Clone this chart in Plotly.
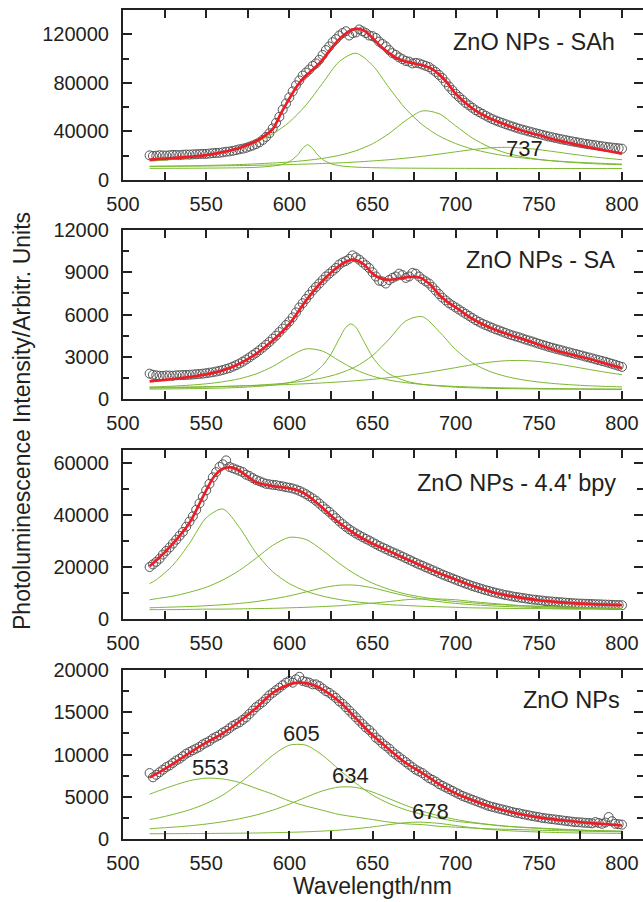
import plotly.graph_objects as go

# ---------------- data ----------------
DATA_X_A = list(range(516, 801, 4))        # measured wavelengths (nm), set A
DATA_X_B = list(range(518, 799, 4))        # measured wavelengths (nm), set B
GRID_X = [516, 520, 530, 540, 550, 560, 570, 580, 590, 600,
          610, 620, 630, 640, 650, 660, 670, 680, 690, 700,
          710, 720, 730, 740, 750, 760, 770, 780, 790, 800]

PANEL_TITLES = ["ZnO NPs - SAh", "ZnO NPs - SA", "ZnO NPs - 4.4' bpy", "ZnO NPs"]
X_TICKS = [500, 550, 600, 650, 700, 750, 800]

# ---- panel 1 : ZnO NPs - SAh ----
P1_DATA_A = [20300, 20000, 20200, 20400, 20600, 20800, 20900, 21200,
             21500, 21800, 22300, 22800, 23500, 24600, 25800, 27500,
             29600, 33000, 38500, 47000, 58000, 68000, 78000, 86000,
             91000, 96000, 103000, 110000, 116000, 121000, 119000, 121500,
             122500, 119000, 117000, 112000, 107000, 103000, 99500, 97500,
             96500, 95000, 93000, 89000, 84000, 77000, 71000, 66000,
             61500, 57500, 54500, 51500, 49000, 47000, 45000, 43200,
             41500, 40000, 38600, 37200, 35800, 34600, 33400, 32300,
             31300, 30300, 29400, 28600, 27800, 27000, 26400, 25800]
P1_DATA_B = [19800, 20400, 20100, 20700, 20500, 21000, 21100, 21400,
             21500, 22100, 22400, 23300, 24000, 25300, 26500, 28400,
             31000, 35500, 42500, 52000, 63000, 73000, 82000, 88500,
             94000, 99000, 107000, 113500, 119000, 122500, 121000, 124000,
             121000, 118500, 114000, 110000, 104500, 101000, 98000, 96000,
             96000, 94000, 91000, 86500, 80500, 74000, 68500, 63500,
             59500, 56000, 53000, 50200, 48000, 46000, 44100, 42300,
             40800, 39300, 37900, 36500, 35200, 34000, 32900, 31800,
             30800, 29800, 29000, 28200, 27400, 26700, 26100]
P1_FIT_X = [516, 520, 530, 540, 550, 560, 570, 580, 590, 595, 600, 605, 610, 615, 620,
            625, 630, 635, 640, 645, 650, 655, 660, 665, 670, 675, 680, 685, 690, 695,
            700, 710, 720, 730, 740, 750, 760, 770, 780, 790, 800]
P1_FIT = [16800, 17200, 18000, 19000, 20500, 23000, 26400, 31900, 42000, 55000, 67000,
          78000, 86000, 92000, 99000, 108000, 116000, 121500, 124500, 123000, 117000,
          110000, 104500, 100000, 97500, 96000, 94500, 92000, 87000, 80000, 71000,
          59000, 51000, 45600, 40500, 37000, 33000, 30000, 27000, 24300, 21700]
P1_C639 = [15500, 15900, 17000, 18500, 20400, 22900, 26300, 31100, 37900, 47700,
           61700, 79700, 97500, 104400, 94500, 75900, 58500, 45500, 36300, 30000,
           25500, 22300, 19900, 18200, 16800, 15700, 14800, 14200, 13600, 13100]
P1_C683 = [11300, 11400, 11500, 11700, 12000, 12300, 12700, 13300, 14000, 14800,
           16100, 17800, 20300, 24100, 29800, 38300, 49000, 56900, 54600, 44600,
           34600, 27300, 22400, 19200, 17000, 15500, 14500, 13600, 13000, 12600]
P1_C737 = [11100, 11200, 11300, 11400, 11500, 11700, 11900, 12100, 12400, 12700,
           13100, 13600, 14100, 14800, 15700, 16700, 18000, 19500, 21300, 23200,
           25000, 26400, 26900, 26400, 25000, 23200, 21300, 19500, 18000, 16700]
P1_C611_X = [516, 540, 560, 580, 590, 595, 600, 605, 608, 611,
             614, 617, 620, 625, 630, 640, 660, 700, 750, 800]
P1_C611 = [9600, 9700, 9900, 10400, 11500, 12600, 15100, 20700, 26000, 29000,
           26000, 20700, 16900, 13400, 11800, 10600, 9900, 9600, 9500, 9500]

# ---- panel 2 : ZnO NPs - SA ----
P2_DATA_A = [1800, 1680, 1640, 1660, 1680, 1700, 1720, 1760,
             1800, 1870, 1950, 2060, 2200, 2400, 2650, 2950,
             3280, 3650, 4050, 4500, 5000, 5500, 6150, 6800,
             7400, 7950, 8450, 8900, 9300, 9700, 9950, 10050,
             9700, 9300, 8700, 8350, 8450, 8700, 8800, 8700,
             8900, 8500, 8200, 7700, 7200, 6800, 6500, 6200,
             5900, 5600, 5350, 5150, 4950, 4780, 4600, 4450,
             4300, 4150, 4000, 3850, 3700, 3570, 3450, 3320,
             3200, 3080, 2950, 2820, 2700, 2570, 2430, 2280]
P2_DATA_B = [1720, 1650, 1670, 1650, 1690, 1710, 1740, 1780,
             1830, 1900, 2000, 2130, 2300, 2520, 2800, 3120,
             3460, 3850, 4280, 4750, 5250, 5800, 6500, 7100,
             7700, 8200, 8700, 9100, 9550, 9800, 10200, 9900,
             9500, 9000, 8400, 8200, 8600, 8900, 8600, 8950,
             8700, 8350, 7950, 7450, 7000, 6650, 6350, 6050,
             5750, 5480, 5250, 5050, 4870, 4690, 4520, 4380,
             4220, 4080, 3920, 3780, 3640, 3510, 3380, 3260,
             3140, 3010, 2890, 2760, 2640, 2500, 2350]
P2_FIT_X = [516, 520, 530, 540, 550, 560, 570, 580, 590, 600, 610, 620, 630, 638, 645,
            650, 655, 660, 670, 678, 685, 690, 695, 700, 710, 720, 730, 740, 750, 760,
            770, 780, 790, 800]
P2_FIT = [1250, 1300, 1420, 1560, 1750, 2030, 2500, 3210, 4150, 5330, 6990, 8400, 9460,
          9890, 9550, 8900, 8550, 8460, 8640, 8650, 8100, 7400, 6900, 6510, 5700, 5100,
          4650, 4270, 3850, 3445, 3150, 2855, 2520, 2195]
P2_C613 = [850, 864, 914, 982, 1079, 1222, 1440, 1780, 2305, 3010,
           3562, 3400, 2717, 2070, 1625, 1341, 1158, 1036, 952, 892,
           848, 815, 789, 768, 752, 739, 729, 720, 712, 706]
P2_C677 = [774, 780, 798, 820, 847, 880, 923, 978, 1052, 1152,
           1294, 1500, 1813, 2302, 3083, 4255, 5538, 5845, 4800, 3505,
           2572, 1981, 1610, 1367, 1203, 1088, 1005, 943, 896, 859]
P2_C737 = [816, 822, 838, 855, 875, 898, 925, 956, 992, 1034,
           1084, 1143, 1213, 1298, 1399, 1520, 1664, 1831, 2022, 2228,
           2432, 2606, 2716, 2736, 2660, 2508, 2312, 2104, 1905, 1728]
P2_C637_X = [516, 530, 550, 570, 590, 600, 610, 615, 620, 625, 630, 634,
             637, 640, 645, 650, 655, 660, 670, 680, 700, 720, 750, 800]
P2_C637 = [703, 718, 752, 820, 983, 1164, 1531, 1862, 2377, 3177, 4278, 5094,
           5330, 5094, 4044, 2990, 2254, 1783, 1279, 1042, 841, 762, 711, 680]

# ---- panel 3 : ZnO NPs - 4.4' bpy ----
P3_DATA_A = [20000, 22000, 24800, 27500, 30500, 33500, 37500, 42000,
             47000, 52000, 56500, 59500, 58500, 57500, 56500, 55000,
             53500, 52500, 51800, 51500, 51000, 50500, 49800, 48700,
             47200, 45500, 43300, 41200, 38800, 36500, 34500, 32900,
             31500, 30200, 28800, 27500, 26300, 25200, 24000, 22800,
             21600, 20500, 19400, 18300, 17100, 16100, 15100, 14100,
             13200, 12300, 11500, 10800, 10100, 9500, 9000, 8500,
             8100, 7700, 7400, 7100, 6800, 6600, 6400, 6200,
             6000, 5900, 5800, 5700, 5600, 5500, 5400, 5300]
P3_DATA_B = [21000, 23200, 26200, 29000, 32000, 35500, 39500, 44500,
             49500, 54500, 58500, 61000, 58000, 57000, 55500, 54200,
             53000, 52000, 51600, 51200, 50700, 50200, 49300, 48000,
             46400, 44400, 42200, 40000, 37600, 35500, 33700, 32200,
             30800, 29500, 28100, 26900, 25700, 24600, 23400, 22200,
             21000, 19900, 18800, 17700, 16600, 15600, 14600, 13600,
             12700, 11900, 11100, 10400, 9800, 9200, 8700, 8300,
             7900, 7500, 7200, 6900, 6700, 6500, 6300, 6100,
             5950, 5850, 5750, 5650, 5550, 5450, 5350]
P3_FIT_X = [516, 520, 530, 540, 550, 555, 560, 565, 570, 575, 580, 590, 600, 605, 610,
            615, 620, 630, 640, 650, 660, 670, 680, 690, 700, 710, 720, 730, 740, 750,
            760, 770, 780, 790, 800]
P3_FIT = [20300, 22500, 29000, 37000, 49500, 55000, 57800, 58300, 57000, 54800, 52600,
          51100, 50300, 49500, 47900, 45500, 42800, 37000, 32500, 29000, 26100, 23200,
          20300, 17600, 15200, 12800, 10700, 9200, 8100, 7200, 6600, 6100, 5800, 5500, 5300]
P3_C558 = [13600, 15100, 20700, 29100, 38900, 42300, 35200, 25400, 18200, 13600,
           10700, 8800, 7500, 6600, 6000, 5500, 5200, 4900, 4700, 4500,
           4300, 4200, 4100, 4000, 4000, 3900, 3800, 3800, 3800, 3700]
P3_C603 = [7400, 7800, 8800, 10300, 12200, 15000, 18700, 23400, 28300, 31400,
           30600, 26400, 21400, 17100, 13800, 11400, 9600, 8400, 7400, 6700,
           6200, 5700, 5400, 5100, 4900, 4700, 4600, 4400, 4300, 4200]
P3_C635 = [4300, 4400, 4600, 4800, 5100, 5500, 6000, 6700, 7700, 8900,
           10400, 12000, 13000, 13000, 12000, 10400, 8900, 7700, 6700, 6000,
           5500, 5100, 4800, 4600, 4400, 4100, 4000, 4000, 3900, 3800]
P3_C685 = [3600, 3600, 3600, 3700, 3800, 3800, 3900, 4000, 4100, 4300,
           4500, 4800, 5100, 5600, 6100, 6700, 7400, 7700, 7700, 7400,
           6700, 6100, 5600, 5100, 4800, 4500, 4300, 4100, 4000, 3900]

# ---- panel 4 : ZnO NPs ----
P4_DATA_A = [7800, 7600, 8200, 8700, 9300, 9800, 10300, 10700,
             11200, 11600, 12100, 12600, 13100, 13600, 14100, 14800,
             15600, 16200, 17000, 17600, 18200, 18700, 18900, 18700,
             18500, 18300, 17800, 17300, 16700, 16000, 15200, 14400,
             13600, 12900, 12000, 11300, 10700, 10000, 9400, 8800,
             8200, 7800, 7200, 6800, 6300, 5900, 5500, 5100,
             4800, 4500, 4200, 3900, 3700, 3500, 3300, 3100,
             2950, 2800, 2650, 2500, 2400, 2300, 2200, 2100,
             2000, 1950, 1900, 2000, 1800, 2600, 1800, 1700]
P4_DATA_B = [7300, 7900, 8500, 9000, 9500, 10100, 10500, 10900,
             11400, 11900, 12300, 12800, 13400, 13800, 14400, 15200,
             15900, 16600, 17300, 17900, 18500, 18500, 19200, 18600,
             18300, 18100, 17500, 17000, 16300, 15600, 14800, 14000,
             13200, 12500, 11700, 11000, 10300, 9700, 9100, 8500,
             8000, 7500, 7000, 6500, 6100, 5700, 5300, 4950,
             4650, 4350, 4050, 3800, 3600, 3400, 3200, 3050,
             2880, 2720, 2580, 2450, 2350, 2250, 2150, 2050,
             1980, 1920, 1850, 1900, 1950, 2100, 1750]
P4_FIT_X = [516, 520, 530, 540, 550, 560, 570, 580, 590, 600, 606, 610, 616, 620, 630,
            640, 650, 660, 670, 680, 690, 700, 710, 720, 730, 740, 750, 760, 770, 780,
            790, 800]
P4_FIT = [7300, 7700, 8900, 10200, 11400, 12500, 13900, 15500, 17300, 18300, 18500,
          18450, 18100, 17700, 16300, 14300, 12300, 10600, 9000, 7800, 6500, 5400, 4600,
          3900, 3350, 2900, 2550, 2300, 2100, 1900, 1750, 1600]
P4_C553 = [5300, 5600, 6300, 6900, 7200, 7100, 6700, 6000, 5300, 4500,
           3900, 3400, 2900, 2600, 2300, 2000, 1800, 1700, 1500, 1400,
           1300, 1200, 1150, 1100, 1040, 990, 950, 910, 880, 850]
P4_C605 = [2300, 2450, 2900, 3450, 4200, 5200, 6600, 8200, 9900, 11100,
           11100, 9900, 8200, 6600, 5200, 4200, 3450, 2900, 2450, 2100,
           1900, 1700, 1500, 1400, 1300, 1200, 1100, 1030, 980, 930]
P4_C634 = [1200, 1270, 1400, 1560, 1770, 2040, 2390, 2840, 3410, 4130,
           4940, 5700, 6150, 6100, 5560, 4770, 3980, 3290, 2740, 2310,
           1980, 1730, 1530, 1370, 1250, 1140, 1060, 990, 940, 890]
P4_C678_X = [516, 540, 560, 580, 600, 610, 620, 630, 640, 650, 660, 670, 678,
             690, 700, 710, 720, 730, 740, 750, 760, 770, 780, 790, 800]
P4_C678 = [620, 640, 670, 710, 790, 850, 940, 1050, 1220, 1430, 1700, 1930, 2000,
           1850, 1590, 1340, 1140, 1000, 900, 830, 770, 730, 700, 680, 660]

PEAK_LABELS = ["737", "553", "605", "634", "678"]

# ---------------- figure ----------------
W, H = 643, 902
PLOT_L, PLOT_R = 123, 643
PANEL_PX = [(10, 180), (230, 399), (450, 619), (670, 839)]
Y_RANGES = [[0, 140000], [0, 12000], [0, 65000], [0, 20000]]
Y_DTICK = [40000, 3000, 20000, 5000]
Y_MINOR = [20000, 1500, 10000, 2500]

panels = [
    (P1_DATA_A, P1_DATA_B, P1_FIT_X, P1_FIT,
     [(GRID_X, P1_C639), (P1_C611_X, P1_C611), (GRID_X, P1_C683), (GRID_X, P1_C737)]),
    (P2_DATA_A, P2_DATA_B, P2_FIT_X, P2_FIT,
     [(GRID_X, P2_C613), (P2_C637_X, P2_C637), (GRID_X, P2_C677), (GRID_X, P2_C737)]),
    (P3_DATA_A, P3_DATA_B, P3_FIT_X, P3_FIT,
     [(GRID_X, P3_C558), (GRID_X, P3_C603), (GRID_X, P3_C635), (GRID_X, P3_C685)]),
    (P4_DATA_A, P4_DATA_B, P4_FIT_X, P4_FIT,
     [(GRID_X, P4_C553), (GRID_X, P4_C605), (GRID_X, P4_C634), (P4_C678_X, P4_C678)]),
]

FONT = "Liberation Sans, Arial, sans-serif"
TXT = "#231f20"
AXC = "#222222"
GREEN = "#7cb82f"
RED = "#ee1c25"
CIRC = "#555555"

fig = go.Figure()
x_px_per_nm = (622 - 123) / 300.0
x_max = 500 + (PLOT_R - PLOT_L) / x_px_per_nm

for i, (da, db, fx, fy, comps) in enumerate(panels):
    sfx = "" if i == 0 else str(i + 1)
    xa, ya = "x" + sfx, "y" + sfx
    for dx, dy in ((DATA_X_A, da), (DATA_X_B, db)):
        fig.add_trace(go.Scatter(x=dx, y=dy, mode="markers", xaxis=xa, yaxis=ya,
                                 marker=dict(symbol="circle", size=9,
                                             color="rgba(255,255,255,0)",
                                             line=dict(color=CIRC, width=1)),
                                 showlegend=False, hoverinfo="skip"))
    for cx, cy in comps:
        fig.add_trace(go.Scatter(x=cx, y=cy, mode="lines", xaxis=xa, yaxis=ya,
                                 line=dict(color=GREEN, width=1, shape="spline", smoothing=0.8),
                                 showlegend=False, hoverinfo="skip"))
    fig.add_trace(go.Scatter(x=fx, y=fy, mode="lines", xaxis=xa, yaxis=ya,
                             line=dict(color=RED, width=2.7, shape="spline", smoothing=0.8),
                             showlegend=False, hoverinfo="skip"))

    top, bot = PANEL_PX[i]
    dom = [1 - bot / H, 1 - top / H]
    axis_common = dict(showline=True, linecolor=AXC, linewidth=2, mirror="ticks",
                       ticks="inside", tickwidth=2, tickcolor=AXC,
                       showgrid=False, zeroline=False,
                       tickfont=dict(family=FONT, size=20, color=TXT))
    fig.layout["xaxis" + sfx] = dict(axis_common, domain=[0, 1], range=[500, x_max],
                                     tickvals=X_TICKS, anchor=ya, ticklen=8,
                                     ticklabelstandoff=5,
                                     minor=dict(dtick=25, tick0=500, ticks="inside",
                                                ticklen=8, tickwidth=2, tickcolor=AXC))
    fig.layout["yaxis" + sfx] = dict(axis_common, domain=dom, range=Y_RANGES[i],
                                     dtick=Y_DTICK[i], tick0=0, tickformat="d", anchor=xa,
                                     ticklen=9, ticklabelstandoff=8,
                                     minor=dict(dtick=Y_MINOR[i], tick0=0, ticks="inside",
                                                ticklen=6, tickwidth=2, tickcolor=AXC))

def px_x(px):
    return (px - PLOT_L) / (PLOT_R - PLOT_L)

def px_y(py):
    return 1 - py / H

ann = []
title_pos = [(617, 42), (617, 260), (618, 483), (622, 700)]
for t, (ax_, ay_) in zip(PANEL_TITLES, title_pos):
    ann.append(dict(text=t, x=px_x(ax_), y=px_y(ay_), xref="paper", yref="paper",
                    xanchor="right", yanchor="middle", showarrow=False,
                    font=dict(family=FONT, size=23.5, color=TXT)))
peak_pos = {"737": (524, 148), "553": (210, 767), "605": (301, 733),
            "634": (350, 775), "678": (430, 811)}
for lab in PEAK_LABELS:
    px_, py_ = peak_pos[lab]
    ann.append(dict(text=lab, x=px_x(px_), y=px_y(py_), xref="paper", yref="paper",
                    xanchor="center", yanchor="middle", showarrow=False,
                    font=dict(family=FONT, size=22, color=TXT)))
ann.append(dict(text="Photoluminescence Intensity/Arbitr. Units", x=px_x(22), y=px_y(421),
                xref="paper", yref="paper", textangle=-90, showarrow=False,
                xanchor="center", yanchor="middle",
                font=dict(family=FONT, size=23, color=TXT)))
ann.append(dict(text="Wavelength/nm", x=px_x(372), y=px_y(886), xref="paper", yref="paper",
                showarrow=False, xanchor="center", yanchor="middle",
                font=dict(family=FONT, size=23, color=TXT)))

fig.update_layout(width=W, height=H, plot_bgcolor="white", paper_bgcolor="white",
                  margin=dict(l=PLOT_L, r=W - PLOT_R, t=0, b=0, autoexpand=False),
                  annotations=ann, showlegend=False)

fig.write_html("out.html", config={"displayModeBar": False},
               post_script="document.body.style.margin='0';"
                           "document.body.style.overflow='hidden';")
